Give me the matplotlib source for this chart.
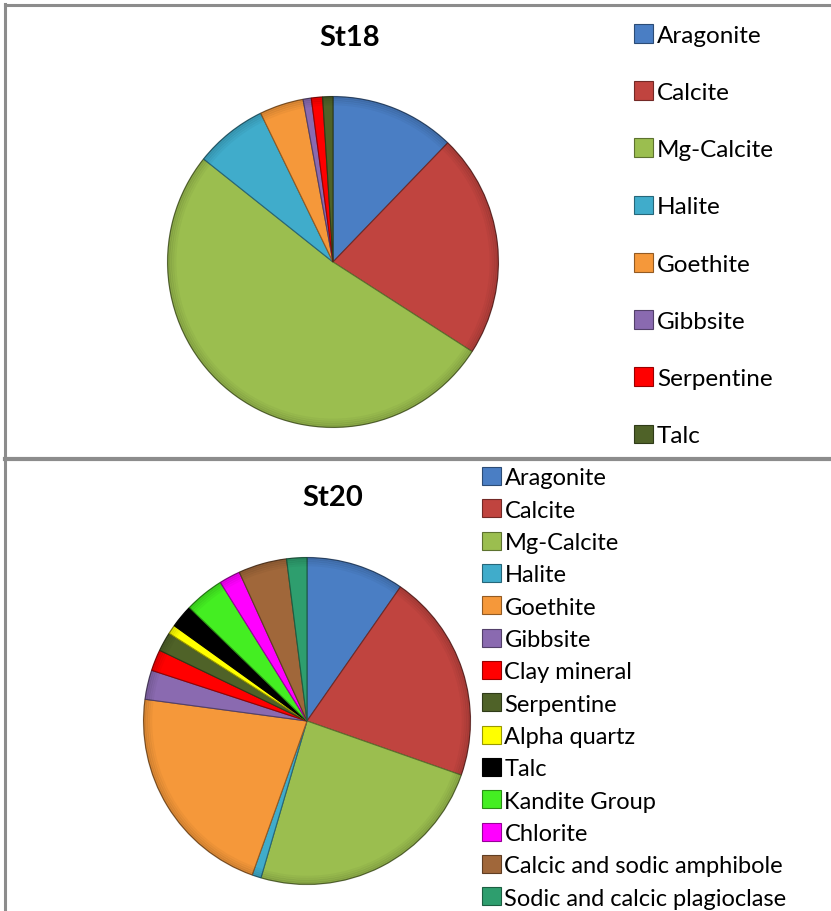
import matplotlib.pyplot as plt
import matplotlib.colors as mcolors
import numpy as np

plt.rcParams['font.family'] = ['Lato', 'DejaVu Sans']

# St18 mineral composition (%)
st18_labels = ["Aragonite", "Calcite", "Mg-Calcite", "Halite", "Goethite",
               "Gibbsite", "Serpentine", "Talc"]
st18_values = [12.2, 21.9, 51.6, 7.1, 4.3, 0.8, 1.1, 1.0]
st18_colors = ["#4A7EC4", "#C0443F", "#9BBE4F", "#40ACCB", "#F5983A",
               "#8A6AB0", "#FF0000", "#4F6228"]

# St20 mineral composition (%)
st20_labels = ["Aragonite", "Calcite", "Mg-Calcite", "Halite", "Goethite",
               "Gibbsite", "Clay mineral", "Serpentine", "Alpha quartz", "Talc",
               "Kandite Group", "Chlorite", "Calcic and sodic amphibole",
               "Sodic and calcic plagioclase"]
st20_values = [9.7, 20.7, 24.2, 0.9, 21.7, 2.9, 2.1, 1.9, 0.9, 2.3, 3.9, 2.1, 4.8, 2.0]
st20_colors = ["#4A7EC4", "#C0443F", "#9BBE4F", "#40ACCB", "#F5983A",
               "#8A6AB0", "#FF0000", "#4F6228", "#FFFF00", "#000000",
               "#44EE22", "#FF00FF", "#A0673A", "#2E9E6E"]

W, H = 831, 912
fig = plt.figure(figsize=(W / 100, H / 100), dpi=100)


def darker(c, f=0.6):
    r, g, b = mcolors.to_rgb(c)
    return (r * f, g * f, b * f)


def px_axes(cx, cy, r):
    # square axes centred on (cx, cy) in pixels from top-left
    return fig.add_axes([(cx - r) / W, (H - cy - r) / H, 2 * r / W, 2 * r / H])


def draw_pie(ax, values, colors):
    wedges, _ = ax.pie(values, colors=colors, startangle=90, counterclock=False,
                       radius=1.0,
                       wedgeprops=dict(linewidth=0.8))
    for w, c in zip(wedges, colors):
        w.set_edgecolor(darker(c))
    # soft darkening towards the rim for a bevelled look
    for k, a in enumerate(np.linspace(0.0, 0.18, 6)):
        ring_r = 1.0 - 0.012 * (5 - k)
        ax.add_patch(plt.Circle((0, 0), ring_r, fill=False,
                                edgecolor=(0, 0, 0, a), linewidth=1.2))
    ax.set_xlim(-1.01, 1.01)
    ax.set_ylim(-1.01, 1.01)
    ax.set_aspect('equal')
    ax.axis('off')
    return wedges


ax1 = px_axes(333, 263, 167)
w1 = draw_pie(ax1, st18_values, st18_colors)
ax2 = px_axes(307, 722, 165)
w2 = draw_pie(ax2, st20_values, st20_colors)

fig.text(350 / W, 1 - 38 / H, "St18", fontsize=21, fontweight='bold',
         ha='center', va='center')
fig.text(333 / W, 1 - 498 / H, "St20", fontsize=21, fontweight='bold',
         ha='center', va='center')

leg1 = fig.legend(w1, st18_labels, loc='upper left',
                  bbox_to_anchor=(634 / W, 1 - 25 / H), frameon=False,
                  fontsize=17.5, labelspacing=1.46, handlelength=0.8,
                  handleheight=0.8, handletextpad=0.15, borderpad=0,
                  borderaxespad=0)
leg2 = fig.legend(w2, st20_labels, loc='upper left',
                  bbox_to_anchor=(482 / W, 1 - 468 / H), frameon=False,
                  fontsize=17, labelspacing=0.47, handlelength=0.8,
                  handleheight=0.8, handletextpad=0.15, borderpad=0,
                  borderaxespad=0)

# panel frames
frame = '#8c8c8c'
fig.add_artist(plt.Line2D([5 / W, 5 / W], [0, 1 - 5 / H], transform=fig.transFigure,
                          color=frame, linewidth=2.2))
fig.add_artist(plt.Line2D([5 / W, 1], [1 - 5.5 / H, 1 - 5.5 / H], transform=fig.transFigure,
                          color=frame, linewidth=2.2))
fig.add_artist(plt.Line2D([5 / W, 1], [1 - 460 / H, 1 - 460 / H], transform=fig.transFigure,
                          color=frame, linewidth=3.0))

fig.savefig("out.png", dpi=100, facecolor='white')
